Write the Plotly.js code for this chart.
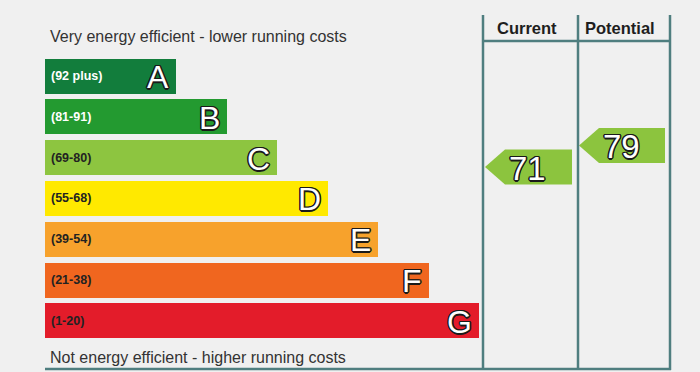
<!DOCTYPE html>
<html><head>
<meta charset="utf-8">
<script src="https://cdn.plot.ly/plotly-3.0.1.min.js"></script>
<style>html,body{margin:0;padding:0;background:#f0f0f0}</style>
</head><body>
<div id="chart" style="width:700px;height:372px"></div>
<script>
// ---- data ----
const bands = ['A','B','C','D','E','F','G'];
const rangeLabels = ['(92 plus)','(81-91)','(69-80)','(55-68)','(39-54)','(21-38)','(1-20)'];
const bandMin = [92,81,69,55,39,21,1];
const bandMax = [100,91,80,68,54,38,20];
const bandColors = ['#127d3c','#239a30','#8dc540','#ffe900','#f7a22c','#f0661f','#e31c2a'];
const rangeLabelColors = ['#ffffff','#ffffff','#222222','#222222','#222222','#222222','#222222'];
const currentRating = 71;
const potentialRating = 79;
const columnTitles = ['Current','Potential'];
const topNote = 'Very energy efficient - lower running costs';
const bottomNote = 'Not energy efficient - higher running costs';

// ---- layout helpers (pixel-like axis units) ----
const X0 = 45, STEP_LEN = 50.5, LEN0 = 131;
const Y0 = 76, PITCH = 40.8, BAR_H = 35;
const barLen = bands.map((b,i)=> LEN0 + STEP_LEN*i);
const barY = bands.map((b,i)=> Y0 + PITCH*i);
const lineColor = '#4f7e7f';
const arrowColor = '#8cc43e';

function bandIndex(v){ for(let i=0;i<bands.length;i++){ if(v>=bandMin[i]) return i; } return bands.length-1; }
function ratingY(v){ const i=bandIndex(v); const mid=(bandMin[i]+bandMax[i])/2; return barY[i] + (mid - v)*2.7; }
function arrow(v, tipX, rightX){
  const yc = ratingY(v), h = BAR_H/2, s = 20;
  return {x:[tipX, tipX+s, rightX, rightX, tipX+s, tipX], y:[yc, yc-h, yc-h, yc+h, yc+h, yc]};
}
const colTip = [485, 579], colRight = [572, 665];
const ratings = [currentRating, potentialRating];

const outline = '-1px -1px 0 #1a1a1a, 1px -1px 0 #1a1a1a, -1px 1px 0 #1a1a1a, 1px 1px 0 #1a1a1a, 0 1.5px 0 #1a1a1a, 0 -1.5px 0 #1a1a1a, 1.5px 0 0 #1a1a1a, -1.5px 0 0 #1a1a1a';

const traces = [{
  type:'bar', orientation:'h', base:X0, x:barLen, y:barY, width:BAR_H,
  marker:{color:bandColors, line:{width:0}}, hoverinfo:'skip', showlegend:false
}];
ratings.forEach((v,k)=>{
  const a = arrow(v, colTip[k], colRight[k]);
  traces.push({type:'scatter', mode:'lines', x:a.x, y:a.y, fill:'toself', fillcolor:arrowColor,
    line:{width:0, color:arrowColor}, hoverinfo:'skip', showlegend:false});
});

const annotations = [];
bands.forEach((b,i)=>{
  annotations.push({x:X0+4, y:barY[i], xref:'x', yref:'y', text:'<b>'+rangeLabels[i]+'</b>', showarrow:false,
    xanchor:'left', yanchor:'middle', font:{family:'Liberation Sans, Arial', size:12.5, color:rangeLabelColors[i]}});
  annotations.push({x:X0+barLen[i]-5, y:barY[i]+1, xref:'x', yref:'y', text:b, showarrow:false,
    xanchor:'right', yanchor:'middle', font:{family:'Liberation Sans, Arial', size:32, color:'#ffffff', shadow:outline}});
});
ratings.forEach((v,k)=>{
  annotations.push({x:colTip[k]+42, y:ratingY(v)+1, xref:'x', yref:'y', text:String(v), showarrow:false,
    xanchor:'center', yanchor:'middle', font:{family:'Liberation Sans, Arial', size:33, color:'#ffffff', shadow:outline}});
});
columnTitles.forEach((t,k)=>{
  annotations.push({x:[527,620][k], y:28, xref:'x', yref:'y', text:'<b>'+t+'</b>', showarrow:false,
    xanchor:'center', yanchor:'middle', font:{family:'Liberation Sans, Arial', size:16.5, color:'#1e1e1e'}});
});
annotations.push({x:48, y:36, xref:'x', yref:'y', text:topNote, showarrow:false, xanchor:'left', yanchor:'middle',
  font:{family:'Liberation Sans, Arial', size:16, color:'#333333'}});
annotations.push({x:48, y:357, xref:'x', yref:'y', text:bottomNote, showarrow:false, xanchor:'left', yanchor:'middle',
  font:{family:'Liberation Sans, Arial', size:16, color:'#333333'}});

const shapes = [];
[483,578,670].forEach(x=>shapes.push({type:'line', xref:'x', yref:'y', x0:x, x1:x, y0:15, y1:370, line:{color:lineColor, width:2.5}}));
shapes.push({type:'line', xref:'x', yref:'y', x0:483, x1:670, y0:41, y1:41, line:{color:lineColor, width:2.5}});
shapes.push({type:'line', xref:'x', yref:'y', x0:45, x1:671, y0:369, y1:369, line:{color:lineColor, width:2.5}});

const layout = {
  width:700, height:372, margin:{l:0,r:0,t:0,b:0},
  paper_bgcolor:'#f0f0f0', plot_bgcolor:'#f0f0f0',
  xaxis:{range:[0,700], visible:false, fixedrange:true},
  yaxis:{range:[372,0], visible:false, fixedrange:true},
  bargap:0, showlegend:false, annotations, shapes
};
Plotly.newPlot('chart', traces, layout, {staticPlot:true, displayModeBar:false});
</script>
</body></html>
